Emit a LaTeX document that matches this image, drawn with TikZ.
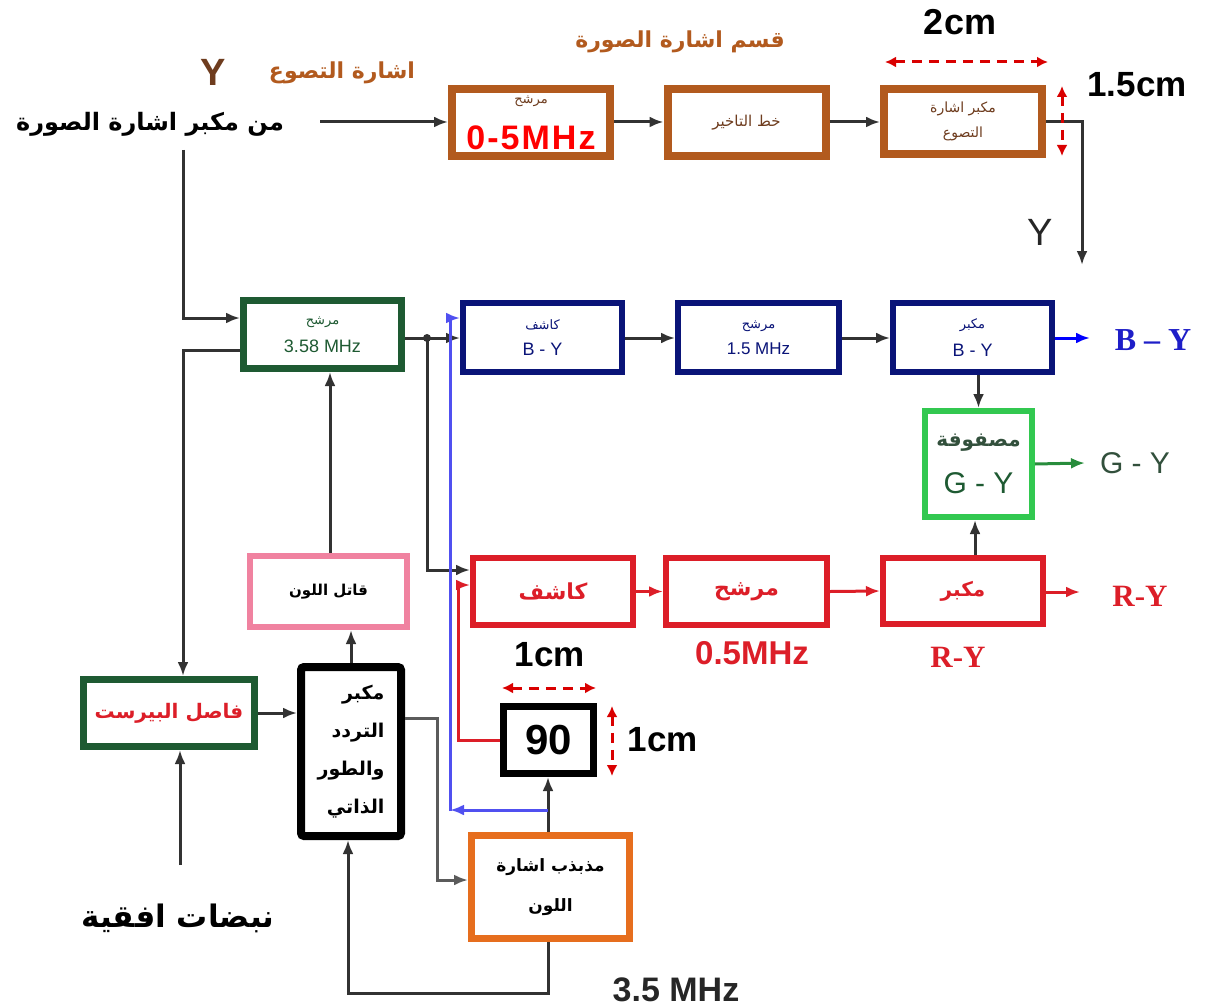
\documentclass[tikz,border=0pt]{standalone}
\usepackage{fontspec}
\usetikzlibrary{arrows.meta}
\setmainfont{Liberation Sans}
\newfontfamily\ser{Liberation Serif}
\newfontfamily\ar[Script=Arabic,BoldFont={DejaVu Sans Bold}]{DejaVu Sans}
\TeXXeTstate=1
\newcommand\AR[1]{{\ar\beginR #1\endR}}
\newcommand\fs[2]{\fontsize{#1}{#2}\selectfont}
\definecolor{brn}{RGB}{178,90,30}
\definecolor{brntxt}{RGB}{110,60,30}
\definecolor{dgreen}{RGB}{30,90,50}
\definecolor{navy}{RGB}{10,20,120}
\definecolor{lgreen}{RGB}{50,200,80}
\definecolor{rbox}{RGB}{220,30,40}
\definecolor{pinkb}{RGB}{240,130,160}
\definecolor{orng}{RGB}{230,110,30}
\definecolor{bline}{RGB}{80,80,240}
\definecolor{blab}{RGB}{30,30,200}
\definecolor{garrow}{RGB}{40,140,60}
\definecolor{lineg}{RGB}{50,50,50}
\definecolor{gytxt}{RGB}{50,80,60}
\begin{document}
\begin{tikzpicture}[x=1pt,y=-1pt,
  box/.style={draw, fill=white, align=center, inner sep=2pt},
  tip/.style={-{Latex[length=14pt,width=11pt]}},
  conn/.style={line width=3pt, draw=lineg, tip},
  dimline/.style={draw=red!85!black, line width=3pt, dash pattern=on 10pt off 7pt,
     {Latex[length=11pt,width=11pt]}-{Latex[length=11pt,width=11pt]}},
  lab/.style={inner sep=0pt}]
\useasboundingbox[fill=white] (0,0) rectangle (1206,1008);

% ---------- top row ----------
\node[box, draw=brn, line width=8pt, minimum width=158pt, minimum height=67pt, font=\fs{13}{15}, text=brntxt] (A) at (531,122.5)
  {\AR{مرشح}\\[18pt]{\fs{34}{34}\bfseries\color{red}\addfontfeature{LetterSpace=6}0-5MHz}};
\node[box, draw=brn, line width=8pt, minimum width=158pt, minimum height=67pt, font=\fs{15}{17}, text=brntxt] (B) at (746.5,122.5)
  {\AR{خط التاخير}};
\node[box, draw=brn, line width=8pt, minimum width=158pt, minimum height=65pt, font=\fs{14}{16}, text=brntxt] (C) at (963,121.5)
  {\AR{مكبر اشارة}\\[9pt]\AR{التصوع}};

\node[lab, font=\fs{24}{26}\bfseries] (in1) at (150,124) {\AR{من مكبر اشارة الصورة}};
\node[lab, text=brn, font=\fs{22}{24}\bfseries] (ysig) at (342,73) {\AR{اشارة التصوع}};
\node[lab, text=brntxt, font=\fs{38}{38}\bfseries] (ylet) at (213,72) {Y};
\node[lab, text=brn, font=\fs{22}{24}\bfseries] (sec) at (680,42) {\AR{قسم اشارة الصورة}};
\node[lab, font=\fs{36}{36}\bfseries] (d2) at (960,22) {2cm};
\node[lab, font=\fs{35}{35}\bfseries] (d15) at (1137,85) {1.5cm};
\node[lab, text=black!85, font=\fs{38}{38}] (yout) at (1040,232) {Y};

\coordinate (s1) at (320,122);
\coordinate (yend) at (1082,265);
\draw[conn] (s1) -- (A.west |- s1);
\draw[conn] (A.east |- 0,122) -- (B.west |- 0,122);
\draw[conn] (B.east |- 0,122) -- (C.west |- 0,122);
\draw[conn] (C.east |- 0,122) -| (yend);
\coordinate (d2a) at (885,62); \coordinate (d2b) at (1048,62);
\draw[dimline] (d2a) -- (d2b);
\coordinate (d15a) at (1062,86); \coordinate (d15b) at (1062,156);
\draw[dimline] (d15a) -- (d15b);

% ---------- B-Y row ----------
\node[box, draw=dgreen, line width=7pt, minimum width=158pt, minimum height=68pt, font=\fs{13}{15}, text=dgreen] (D) at (322.5,334.5)
  {\AR{مرشح}\\[11pt]{\fs{18}{20}3.58 MHz}};
\node[box, draw=navy, line width=6pt, minimum width=159pt, minimum height=69pt, font=\fs{13}{15}, text=navy] (E) at (542.5,337.5)
  {\AR{كاشف}\\[11pt]{\fs{18}{20}B - Y}};
\node[box, draw=navy, line width=6pt, minimum width=161pt, minimum height=69pt, font=\fs{13}{15}, text=navy] (F) at (758.5,337.5)
  {\AR{مرشح}\\[11pt]{\fs{17}{20}1.5 MHz}};
\node[box, draw=navy, line width=6pt, minimum width=159pt, minimum height=69pt, font=\fs{13}{15}, text=navy] (G) at (972.5,337.5)
  {\AR{مكبر}\\[11pt]{\fs{18}{20}B - Y}};
\node[box, draw=lgreen, line width=6pt, minimum width=107pt, minimum height=106pt, font=\fs{20}{24}\bfseries, text=gytxt] (H) at (978.5,464)
  {\AR{مصفوفة}\\[20pt]{\fs{30}{30}\mdseries\color{dgreen}G - Y}};

\node[lab, text=blab, font=\fs{32}{32}\ser\bfseries] (BYl) at (1153,340) {B – Y};
\node[lab, text=gytxt, font=\fs{30}{30}] (GYl) at (1135,463) {G - Y};

\coordinate (s2) at (183,150);
\coordinate (j1) at (427,338);
\coordinate (byend) at (1090,338);
\coordinate (gyend) at (1085,463);
\draw[conn] (s2) |- (D.west |- 0,318);
\draw[conn] (D.east |- 0,338) -- (E.west |- 0,338);
\draw[conn] (E.east |- 0,338) -- (F.west |- 0,338);
\draw[conn] (F.east |- 0,338) -- (G.west |- 0,338);
\draw[conn, draw=blue] (G.east |- 0,338) -- (byend);
\draw[conn] (H.north |- G.south) -- (H.north);
\draw[conn, draw=garrow] (H.east) -- (gyend);
\fill[lineg] (j1) circle (4pt);
\draw[conn] (j1) |- (470,570);

% ---------- R-Y row ----------
\node[box, draw=rbox, line width=6pt, minimum width=160pt, minimum height=67pt] (I) at (553,591.5)
  {\fs{22}{24}\bfseries\color{rbox}\AR{كاشف}};
\node[box, draw=rbox, line width=6pt, minimum width=161pt, minimum height=67pt] (J) at (746.5,591.5)
  {\fs{22}{24}\bfseries\color{rbox}\AR{مرشح}};
\node[box, draw=rbox, line width=6pt, minimum width=160pt, minimum height=66pt] (K) at (963,591)
  {\fs{20}{22}\bfseries\color{rbox}\AR{مكبر}};
\node[lab, text=rbox, font=\fs{33}{33}\bfseries] (f05) at (752,653) {0.5MHz};
\node[lab, text=rbox, font=\fs{31}{31}\ser\bfseries] (RYb) at (958,657) {R-Y};
\node[lab, text=rbox, font=\fs{31}{31}\ser\bfseries] (RYl) at (1140,596) {R-Y};
\coordinate (ryend) at (1080,592);
\draw[conn, draw=rbox] (I.east) -- (J.west);
\draw[conn, draw=rbox] (J.east) -- (K.west);
\draw[conn, draw=rbox] (K.east |- 0,592) -- (ryend);
\draw[conn] (K.north -| 975,0) -- (H.south -| 975,0);

% ---------- lower left ----------
\node[box, draw=pinkb, line width=6pt, minimum width=157pt, minimum height=71pt] (L) at (328.5,591.5)
  {\fs{15}{17}\bfseries\AR{قاتل اللون}};
\node[box, draw=black, line width=8pt, rounded corners=3pt, minimum width=100pt, minimum height=169pt, align=right, font=\fs{19}{22}\bfseries] (M) at (351,751.5)
  {\AR{مكبر}\\[16pt]\AR{التردد}\\[16pt]\AR{والطور}\\[16pt]\AR{الذاتي}};
\node[box, draw=dgreen, line width=7pt, minimum width=171pt, minimum height=67pt] (N) at (169,713)
  {\fs{20}{22}\bfseries\color{rbox}\AR{فاصل البيرست}};
\node[box, draw=black, line width=7pt, minimum width=90pt, minimum height=67pt] (T) at (548.5,740)
  {\fs{42}{42}\bfseries 90};
\node[box, draw=orng, line width=7pt, minimum width=158pt, minimum height=103pt, font=\fs{17}{20}\bfseries] (O) at (550.5,887)
  {\AR{مذبذب اشارة}\\[20pt]\AR{اللون}};

\node[lab, font=\fs{31}{31}\bfseries] (pulse) at (178,918) {\AR{نبضات افقية}};
\node[lab, font=\fs{35}{35}\bfseries] (c1a) at (550,655) {1cm};
\node[lab, font=\fs{35}{35}\bfseries] (c1b) at (663,740) {1cm};
\node[lab, text=black!85, font=\fs{34}{34}\bfseries] (f35) at (676,990) {3.5 MHz};

\coordinate (p1) at (180,865);
\coordinate (dca) at (502,688); \coordinate (dcb) at (596,688);
\coordinate (dcc) at (612,706); \coordinate (dcd) at (612,776);
\draw[dimline] (dca) -- (dcb);
\draw[dimline] (dcc) -- (dcd);

\draw[conn] (D.west |- 0,350) -| (N.north -| 183,0);
\draw[conn] (L.north -| 330,0) -- (D.south -| 330,0);
\draw[conn] (M.north) -- (M.north |- L.south);
\draw[conn] (N.east) -- (M.west |- N.east);
\draw[conn] (p1) -- (p1 |- N.south);
\draw[conn, draw=lineg!80] (M.east |- 0,718) -| (437,880) -- (O.west |- 0,880);
\draw[conn] (O.north -| 548,0) -- (T.south -| 548,0);
\draw[conn] (O.south -| 548,0) |- (348,993) -- (M.south -| 348,0);
% blue line
\draw[line width=3pt, draw=bline, tip] (548,810) -- (450,810);
\draw[line width=3pt, draw=bline, tip] (450,811) -- (450,318) -- (E.west |- 0,318);
% red line
\draw[conn, draw=rbox] (T.west) -| (458,585) -- (I.west |- 0,585);
\end{tikzpicture}
\end{document}
